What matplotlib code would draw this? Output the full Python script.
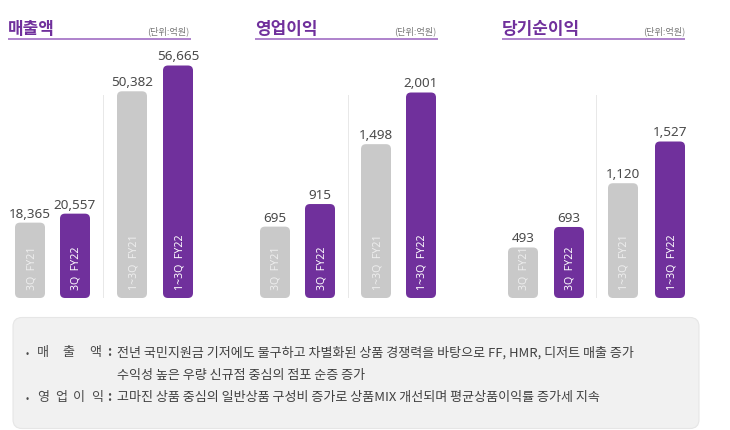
import matplotlib
matplotlib.use("Agg")
import matplotlib.pyplot as plt
from matplotlib.patches import FancyBboxPatch

plt.rcParams["font.family"] = ["Noto Sans CJK KR", "DejaVu Sans"]

W, H = 730, 431
BASE_Y = 299
GRAY = "#c9c9c9"
PURPLE = "#70309c"
TEXT = "#4a4a4a"

# data
titles = ["매출액", "영업이익", "당기순이익"]
unit_label = "(단위:억원)"
bar_labels = ["3Q  FY21", "3Q  FY22", "1~3Q  FY21", "1~3Q  FY22"]
sales = [18365, 20557, 50382, 56665]
op_profit = [695, 915, 1498, 2001]
net_profit = [493, 693, 1120, 1527]
note_lines = [
    "전년 국민지원금 기저에도 불구하고 차별화된 상품 경쟁력을 바탕으로 FF, HMR, 디저트 매출 증가",
    "수익성 높은 우량 신규점 중심의 점포 순증 증가",
    "고마진 상품 중심의 일반상품 구성비 증가로 상품MIX 개선되며 평균상품이익률 증가세 지속",
]

# layout in pixels
panels = [
    dict(values=sales, ymax_px=232.5, xs=[15, 60, 117, 163], sep=103, title_x=8, line=(8, 191), unit_x=189),
    dict(values=op_profit, ymax_px=205.5, xs=[260, 305, 361, 406], sep=348, title_x=255, line=(255, 438), unit_x=436),
    dict(values=net_profit, ymax_px=156.5, xs=[508, 554, 608, 655], sep=596, title_x=502, line=(502, 685), unit_x=685),
]
BAR_W = 30

fig = plt.figure(figsize=(W / 100, H / 100), dpi=100)

# overlay axes in pixel coordinates for the panel, headers and notes
bg = fig.add_axes([0, 0, 1, 1])
bg.set_xlim(0, W)
bg.set_ylim(H, 0)
bg.axis("off")

bg.add_patch(FancyBboxPatch((13, 318.5), 686, 111, boxstyle="round,pad=0,rounding_size=9",
                            facecolor="#f1f1f1", edgecolor="#e6e6e6", linewidth=0.8))

for title, p in zip(titles, panels):
    bg.text(p["title_x"], 29.5, title, fontsize=12.2, fontweight="bold", color=PURPLE, va="center", ha="left")
    bg.text(p["unit_x"], 31, unit_label, fontsize=6.6, color="#777777", va="center", ha="right")
    bg.plot(p["line"], [40, 40], color="#a878c8", linewidth=1.3, solid_capstyle="butt")
    bg.plot([p["sep"], p["sep"]], [96, 298], color="#e8e8e8", linewidth=0.7)

# one axes per panel, y scale fixed so the tallest bar gets its pixel height
for p in panels:
    ax = fig.add_axes([0, (H - BASE_Y) / H, 1, BASE_Y / H])
    ax.patch.set_alpha(0)
    ax.axis("off")
    ax.set_xlim(0, W)
    top = max(p["values"])
    px_per_unit = p["ymax_px"] / top
    ax.set_ylim(0, BASE_Y / px_per_unit)
    for i, (x, val, lab) in enumerate(zip(p["xs"], p["values"], bar_labels)):
        color = PURPLE if i % 2 else GRAY
        ax.add_patch(FancyBboxPatch((x, 0), BAR_W, val, boxstyle="round,pad=0,rounding_size=5",
                                    mutation_aspect=1 / px_per_unit, facecolor=color, edgecolor="none"))
        ax.text(x + BAR_W / 2, val + 3 / px_per_unit, f"{val:,}", fontsize=9.7, color=TEXT,
                ha="center", va="bottom", family="Noto Sans")
        ax.text(x + BAR_W / 2 + 1.5, 9 / px_per_unit, lab, fontsize=7.6, color="white" if i % 2 else "#eeeeee",
                rotation=90, ha="center", va="bottom", family="Noto Sans")

# notes box text
note_size = 9.4
bg.text(27, 354, "•", fontsize=7, color=TEXT, va="center", ha="center")
bg.text(27, 399, "•", fontsize=7, color=TEXT, va="center", ha="center")
for ch, x in zip("매출액", [43, 68, 95]):
    bg.text(x, 353, ch, fontsize=note_size, fontweight="medium", color=TEXT, va="center", ha="center")
for ch, x in zip("영업이익", [43, 61, 79, 97]):
    bg.text(x, 398, ch, fontsize=note_size, fontweight="medium", color=TEXT, va="center", ha="center")
bg.text(109, 352.5, ":", fontsize=note_size, fontweight="bold", color=TEXT, va="center", ha="center")
bg.text(109, 397.5, ":", fontsize=note_size, fontweight="bold", color=TEXT, va="center", ha="center")
for line, y in zip(note_lines, [353, 375.5, 398]):
    bg.text(117, y, line, fontsize=note_size, color="#404040", va="center", ha="left")

fig.savefig("out.png", dpi=100)
